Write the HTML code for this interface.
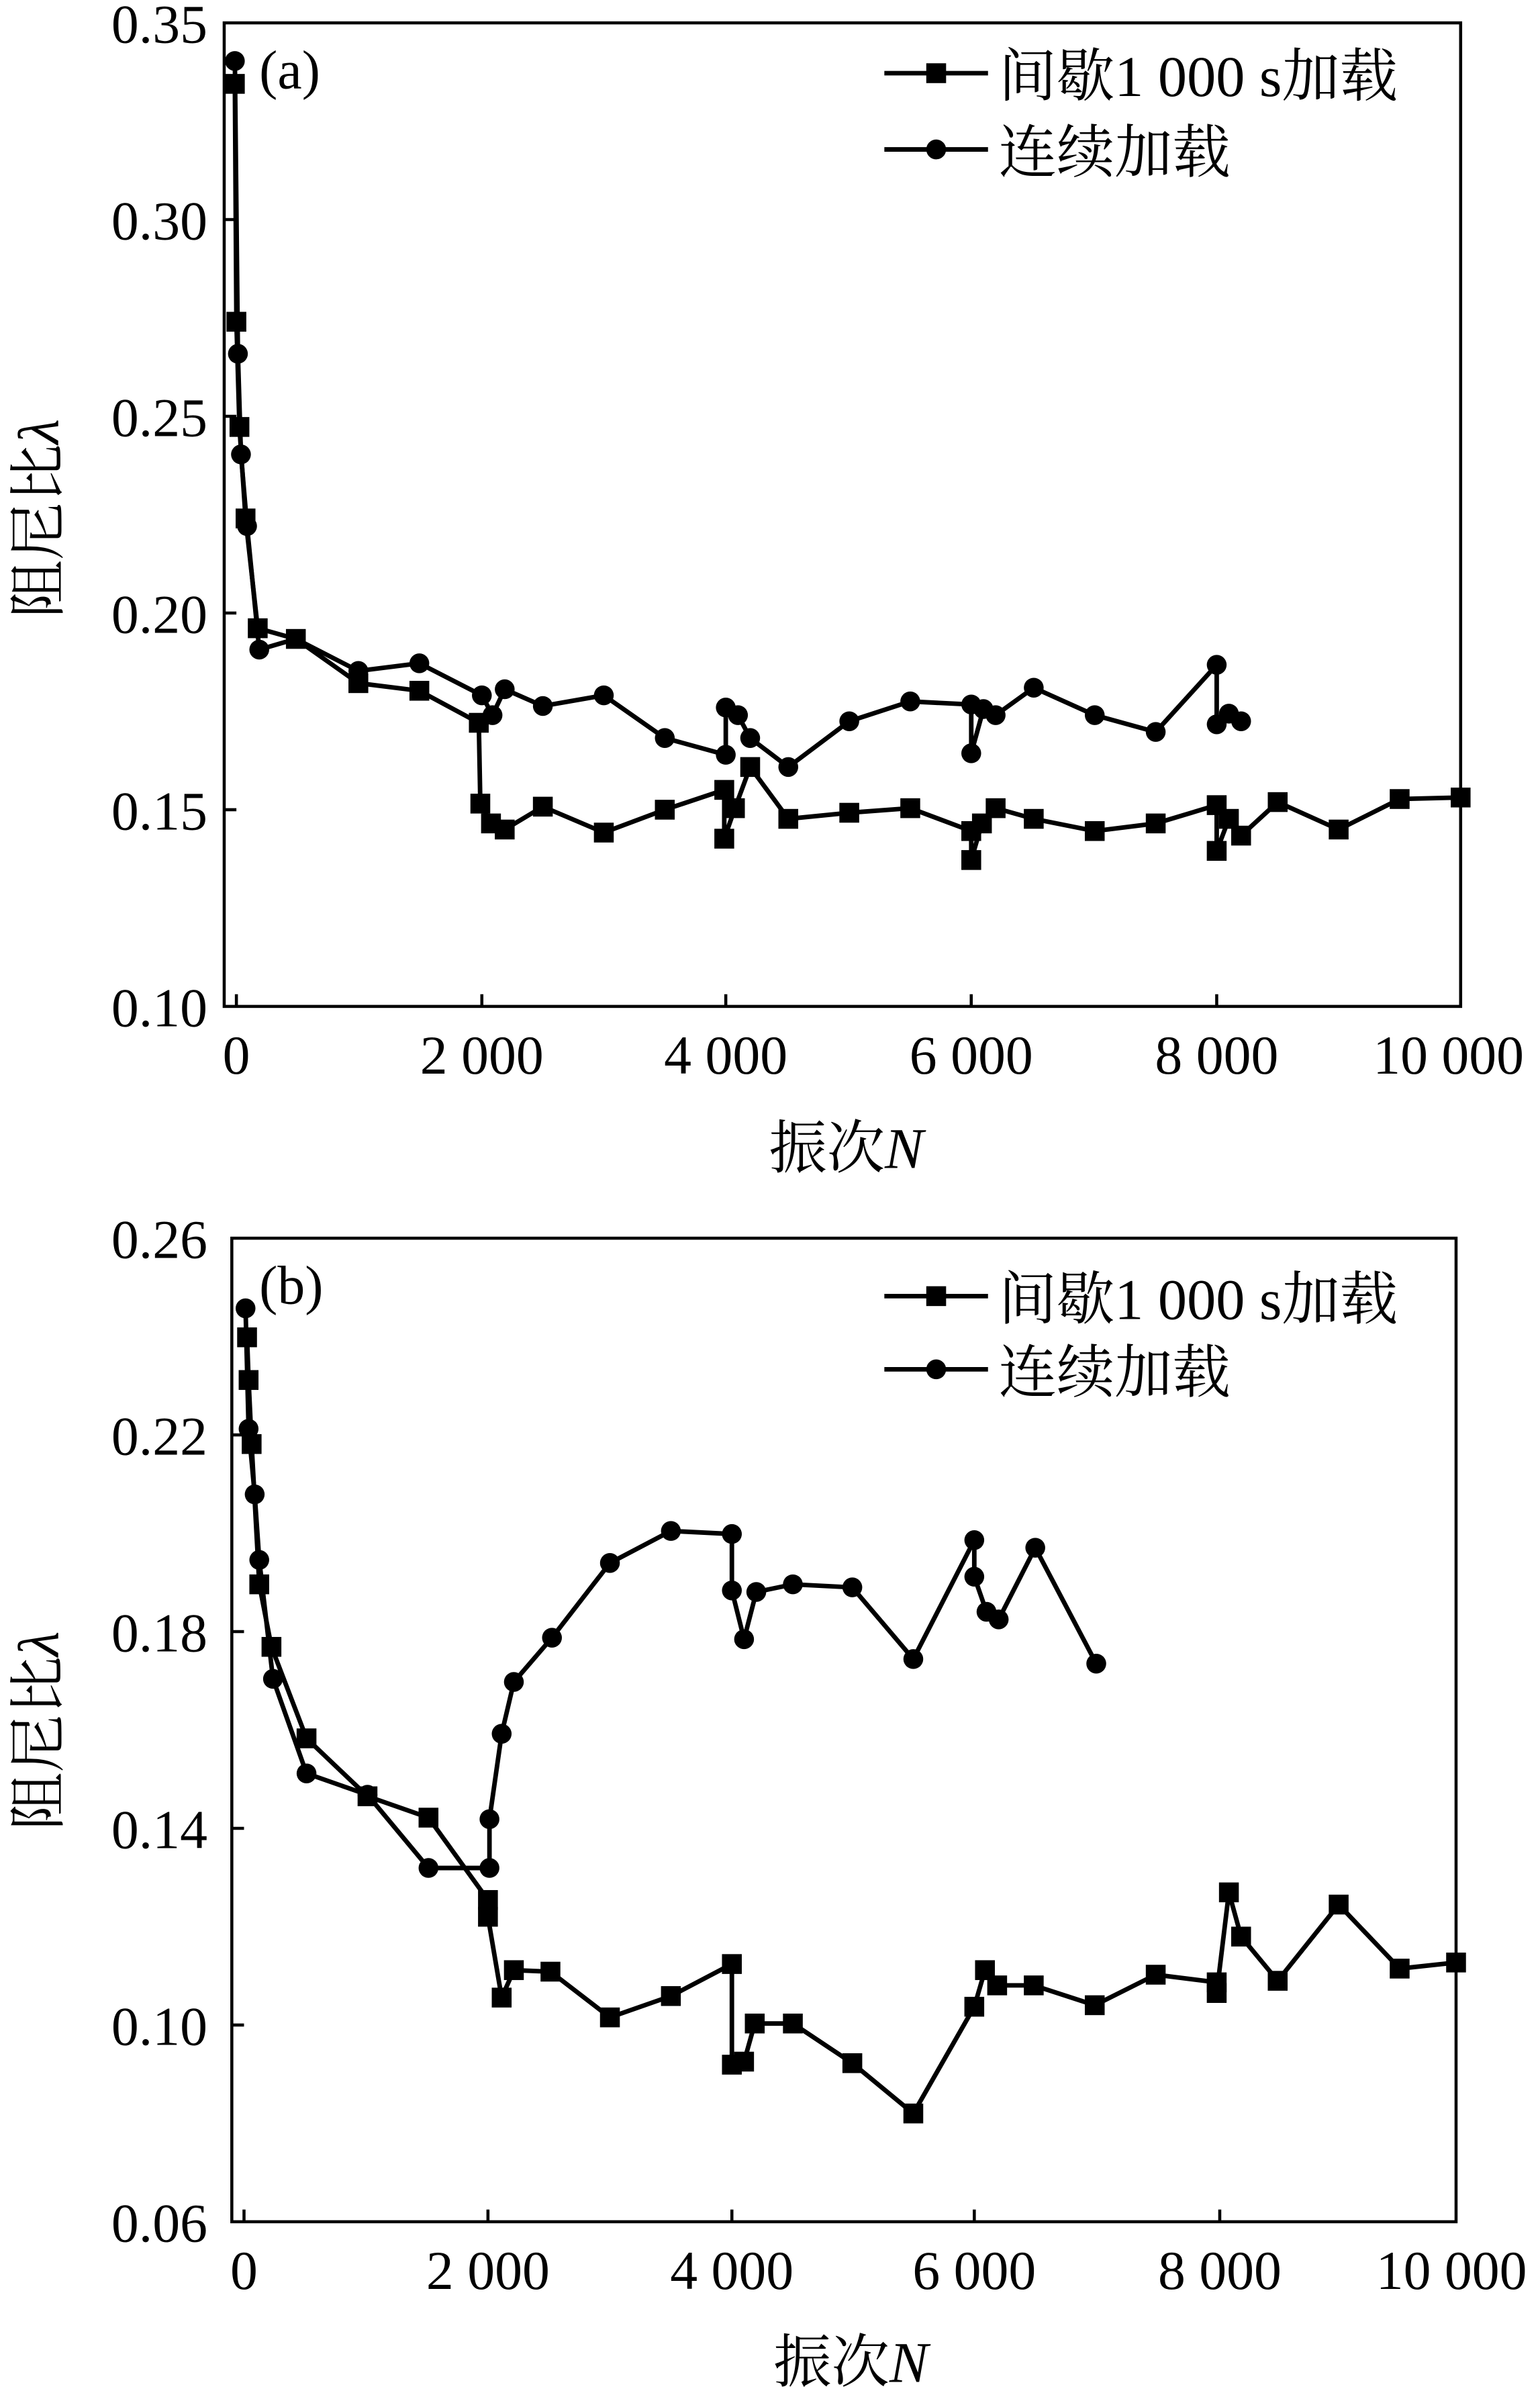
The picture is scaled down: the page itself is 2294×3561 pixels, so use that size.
<!DOCTYPE html>
<html><head><meta charset="utf-8"><style>
html,body{margin:0;padding:0;background:#fff;}
svg{display:block;}
text{font-family:"Liberation Serif","Noto Serif CJK SC","Noto Sans CJK SC",serif;fill:#000;}
</style></head><body>
<svg width="2294" height="3561" viewBox="0 0 1010 1568" xmlns="http://www.w3.org/2000/svg">
<defs>
<rect id="sq" x="-6.5" y="-6.5" width="13" height="13" fill="#000"/>
<circle id="ci" r="6.5" fill="#000"/>
</defs>
<!-- Panel a -->
<rect x="147" y="15" width="811" height="645" fill="none" stroke="#000" stroke-width="2"/>
<g stroke="#000" stroke-width="2">
<line x1="147" y1="144" x2="155" y2="144"/><line x1="147" y1="273" x2="155" y2="273"/>
<line x1="147" y1="402" x2="155" y2="402"/><line x1="147" y1="531" x2="155" y2="531"/>
<line x1="155" y1="660" x2="155" y2="652"/><line x1="316" y1="660" x2="316" y2="652"/>
<line x1="476" y1="660" x2="476" y2="652"/><line x1="637" y1="660" x2="637" y2="652"/>
<line x1="798" y1="660" x2="798" y2="652"/>
</g>
<g font-size="36" text-anchor="end">
<text x="136" y="28">0.35</text><text x="136" y="157">0.30</text><text x="136" y="286">0.25</text>
<text x="136" y="415">0.20</text><text x="136" y="544">0.15</text><text x="136" y="673">0.10</text>
</g>
<g font-size="36" text-anchor="middle">
<text x="155" y="704">0</text><text x="316" y="704">2 000</text><text x="476" y="704">4 000</text>
<text x="637" y="704">6 000</text><text x="798" y="704">8 000</text><text x="950" y="704">10 000</text>
</g>
<text x="555" y="766" font-size="38" text-anchor="middle">振次<tspan font-style="italic">N</tspan></text>
<text transform="translate(38,340) rotate(-90)" font-size="38" text-anchor="middle">阻尼比<tspan font-style="italic">λ</tspan></text>
<text x="170" y="58" font-size="36">(a)</text>
<polyline fill="none" stroke="#000" stroke-width="3" points="154,55 155,211 157,280 161,340 169,412 194,419 235,448 275,453 314,474 315,527 322,540 331,544 356,529 396,546 436,531 475,518 475,550 482,530 492,503 517,537 557,533 597,530 637,545 637,564 644,540 653,530 678,537 718,545 758,540 798,528 798,558 806,537 814,548 838,526 878,544 918,524 958,523"/>
<polyline fill="none" stroke="#000" stroke-width="3" points="154,40 156,232 158,298 162,345 170,426 194,419 235,440 275,435 316,456 323,469 331,452 356,463 396,456 436,484 476,495 476,464 484,469 492,484 517,503 557,473 597,460 637,462 637,494 645,465 653,469 678,451 718,469 758,480 798,436 798,475 806,468 814,473"/>
<g>
<use href="#sq" x="154" y="55"/><use href="#sq" x="155" y="211"/><use href="#sq" x="157" y="280"/><use href="#sq" x="161" y="340"/><use href="#sq" x="169" y="412"/><use href="#sq" x="194" y="419"/><use href="#sq" x="235" y="448"/><use href="#sq" x="275" y="453"/><use href="#sq" x="314" y="474"/><use href="#sq" x="315" y="527"/><use href="#sq" x="322" y="540"/><use href="#sq" x="331" y="544"/><use href="#sq" x="356" y="529"/><use href="#sq" x="396" y="546"/><use href="#sq" x="436" y="531"/><use href="#sq" x="475" y="518"/><use href="#sq" x="475" y="550"/><use href="#sq" x="482" y="530"/><use href="#sq" x="492" y="503"/><use href="#sq" x="517" y="537"/><use href="#sq" x="557" y="533"/><use href="#sq" x="597" y="530"/><use href="#sq" x="637" y="545"/><use href="#sq" x="637" y="564"/><use href="#sq" x="644" y="540"/><use href="#sq" x="653" y="530"/><use href="#sq" x="678" y="537"/><use href="#sq" x="718" y="545"/><use href="#sq" x="758" y="540"/><use href="#sq" x="798" y="528"/><use href="#sq" x="798" y="558"/><use href="#sq" x="806" y="537"/><use href="#sq" x="814" y="548"/><use href="#sq" x="838" y="526"/><use href="#sq" x="878" y="544"/><use href="#sq" x="918" y="524"/><use href="#sq" x="958" y="523"/>
<use href="#ci" x="154" y="40"/><use href="#ci" x="156" y="232"/><use href="#ci" x="158" y="298"/><use href="#ci" x="162" y="345"/><use href="#ci" x="170" y="426"/><use href="#ci" x="235" y="440"/><use href="#ci" x="275" y="435"/><use href="#ci" x="316" y="456"/><use href="#ci" x="323" y="469"/><use href="#ci" x="331" y="452"/><use href="#ci" x="356" y="463"/><use href="#ci" x="396" y="456"/><use href="#ci" x="436" y="484"/><use href="#ci" x="476" y="495"/><use href="#ci" x="476" y="464"/><use href="#ci" x="484" y="469"/><use href="#ci" x="492" y="484"/><use href="#ci" x="517" y="503"/><use href="#ci" x="557" y="473"/><use href="#ci" x="597" y="460"/><use href="#ci" x="637" y="462"/><use href="#ci" x="637" y="494"/><use href="#ci" x="645" y="465"/><use href="#ci" x="653" y="469"/><use href="#ci" x="678" y="451"/><use href="#ci" x="718" y="469"/><use href="#ci" x="758" y="480"/><use href="#ci" x="798" y="436"/><use href="#ci" x="798" y="475"/><use href="#ci" x="806" y="468"/><use href="#ci" x="814" y="473"/>
</g>
<line x1="580" y1="48" x2="648" y2="48" stroke="#000" stroke-width="3"/><use href="#sq" x="614" y="48"/>
<text x="655" y="63" font-size="38">间歇1 000 s加载</text>
<line x1="580" y1="98" x2="648" y2="98" stroke="#000" stroke-width="3"/><use href="#ci" x="614" y="98"/>
<text x="655" y="113" font-size="38">连续加载</text>

<!-- Panel b -->
<rect x="152" y="812" width="803" height="645" fill="none" stroke="#000" stroke-width="2"/>
<g stroke="#000" stroke-width="2">
<line x1="152" y1="941" x2="160" y2="941"/><line x1="152" y1="1070" x2="160" y2="1070"/>
<line x1="152" y1="1199" x2="160" y2="1199"/><line x1="152" y1="1328" x2="160" y2="1328"/>
<line x1="160" y1="1457" x2="160" y2="1449"/><line x1="320" y1="1457" x2="320" y2="1449"/>
<line x1="480" y1="1457" x2="480" y2="1449"/><line x1="639" y1="1457" x2="639" y2="1449"/>
<line x1="800" y1="1457" x2="800" y2="1449"/>
</g>
<g font-size="36" text-anchor="end">
<text x="136" y="825">0.26</text><text x="136" y="954">0.22</text><text x="136" y="1083">0.18</text>
<text x="136" y="1212">0.14</text><text x="136" y="1341">0.10</text><text x="136" y="1470">0.06</text>
</g>
<g font-size="36" text-anchor="middle">
<text x="160" y="1501">0</text><text x="320" y="1501">2 000</text><text x="480" y="1501">4 000</text>
<text x="639" y="1501">6 000</text><text x="800" y="1501">8 000</text><text x="952" y="1501">10 000</text>
</g>
<text x="558" y="1562" font-size="38" text-anchor="middle">振次<tspan font-style="italic">N</tspan></text>
<text transform="translate(38,1135) rotate(-90)" font-size="38" text-anchor="middle">阻尼比<tspan font-style="italic">λ</tspan></text>
<text x="170" y="855" font-size="36">(b)</text>
<polyline fill="none" stroke="#000" stroke-width="3" points="162,877 163,905 165,947 170,1039 178,1080 201,1140 241,1178 281,1192 320,1246 320,1257 329,1310 337,1292 361,1293 400,1323 440,1309 480,1288 480,1354 488,1352 495,1327 520,1327 559,1353 599,1386 639,1316 646,1292 654,1302 678,1302 718,1315 758,1295 798,1300 798,1307 806,1241 814,1270 838,1299 878,1249 918,1291 955,1287"/>
<polyline fill="none" stroke="#000" stroke-width="3" points="161,858 163,937 167,980 170,1023 179,1101 201,1163 241,1177 281,1225 321,1225 321,1193 329,1137 337,1103 362,1074 400,1025 440,1004 480,1006 480,1043 488,1075 496,1044 520,1039 559,1041 599,1088 639,1010 639,1034 647,1057 655,1062 679,1015 719,1091"/>
<use href="#sq" x="162" y="877"/><use href="#sq" x="163" y="905"/><use href="#sq" x="165" y="947"/><use href="#sq" x="170" y="1039"/><use href="#sq" x="178" y="1080"/><use href="#sq" x="201" y="1140"/><use href="#sq" x="241" y="1178"/><use href="#sq" x="281" y="1192"/><use href="#sq" x="320" y="1246"/><use href="#sq" x="320" y="1257"/><use href="#sq" x="329" y="1310"/><use href="#sq" x="337" y="1292"/><use href="#sq" x="361" y="1293"/><use href="#sq" x="400" y="1323"/><use href="#sq" x="440" y="1309"/><use href="#sq" x="480" y="1288"/><use href="#sq" x="480" y="1354"/><use href="#sq" x="488" y="1352"/><use href="#sq" x="495" y="1327"/><use href="#sq" x="520" y="1327"/><use href="#sq" x="559" y="1353"/><use href="#sq" x="599" y="1386"/><use href="#sq" x="639" y="1316"/><use href="#sq" x="646" y="1292"/><use href="#sq" x="654" y="1302"/><use href="#sq" x="678" y="1302"/><use href="#sq" x="718" y="1315"/><use href="#sq" x="758" y="1295"/><use href="#sq" x="798" y="1300"/><use href="#sq" x="798" y="1307"/><use href="#sq" x="806" y="1241"/><use href="#sq" x="814" y="1270"/><use href="#sq" x="838" y="1299"/><use href="#sq" x="878" y="1249"/><use href="#sq" x="918" y="1291"/><use href="#sq" x="955" y="1287"/>
<use href="#ci" x="161" y="858"/><use href="#ci" x="163" y="937"/><use href="#ci" x="167" y="980"/><use href="#ci" x="170" y="1023"/><use href="#ci" x="179" y="1101"/><use href="#ci" x="201" y="1163"/><use href="#ci" x="241" y="1177"/><use href="#ci" x="281" y="1225"/><use href="#ci" x="321" y="1225"/><use href="#ci" x="321" y="1193"/><use href="#ci" x="329" y="1137"/><use href="#ci" x="337" y="1103"/><use href="#ci" x="362" y="1074"/><use href="#ci" x="400" y="1025"/><use href="#ci" x="440" y="1004"/><use href="#ci" x="480" y="1006"/><use href="#ci" x="480" y="1043"/><use href="#ci" x="488" y="1075"/><use href="#ci" x="496" y="1044"/><use href="#ci" x="520" y="1039"/><use href="#ci" x="559" y="1041"/><use href="#ci" x="599" y="1088"/><use href="#ci" x="639" y="1010"/><use href="#ci" x="639" y="1034"/><use href="#ci" x="647" y="1057"/><use href="#ci" x="655" y="1062"/><use href="#ci" x="679" y="1015"/><use href="#ci" x="719" y="1091"/>
<line x1="580" y1="850" x2="648" y2="850" stroke="#000" stroke-width="3"/><use href="#sq" x="614" y="850"/>
<text x="655" y="865" font-size="38">间歇1 000 s加载</text>
<line x1="580" y1="898" x2="648" y2="898" stroke="#000" stroke-width="3"/><use href="#ci" x="614" y="898"/>
<text x="655" y="913" font-size="38">连续加载</text>
</svg>
</body></html>
